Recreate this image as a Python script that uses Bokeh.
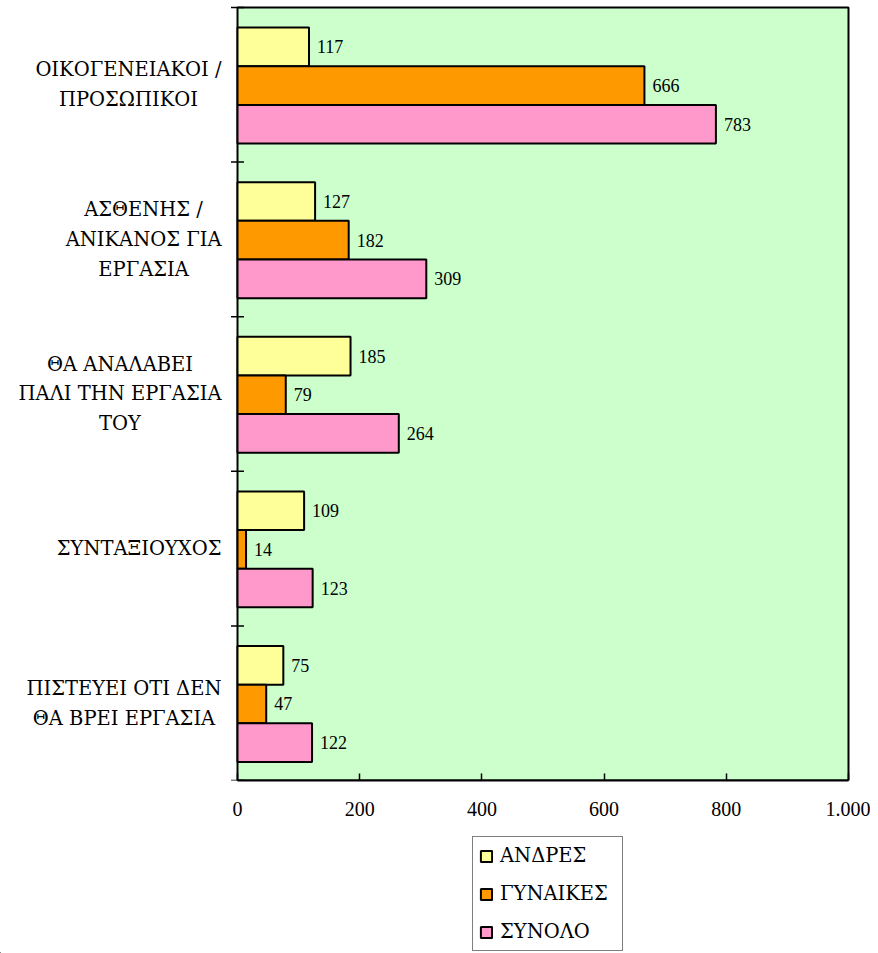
from bokeh.plotting import figure
from bokeh.layouts import column
from bokeh.models import (ColumnDataSource, FixedTicker, Range1d, Legend, LegendItem,
                          BoxAnnotation)
from bokeh.core.properties import value
from bokeh.embed import file_html
from bokeh.resources import INLINE

categories = [
    "ΟΙΚΟΓΕΝΕΙΑΚΟΙ /\nΠΡΟΣΩΠΙΚΟΙ",
    "ΑΣΘΕΝΗΣ /\nΑΝΙΚΑΝΟΣ ΓΙΑ\nΕΡΓΑΣΙΑ",
    "ΘΑ ΑΝΑΛΑΒΕΙ\nΠΑΛΙ ΤΗΝ ΕΡΓΑΣΙΑ\nΤΟΥ",
    "ΣΥΝΤΑΞΙΟΥΧΟΣ",
    "ΠΙΣΤΕΥΕΙ ΟΤΙ ΔΕΝ\nΘΑ ΒΡΕΙ ΕΡΓΑΣΙΑ",
]
series_names = ["ΑΝΔΡΕΣ", "ΓΥΝΑΙΚΕΣ", "ΣΥΝΟΛΟ"]
andres = [117, 127, 185, 109, 75]
gynaikes = [666, 182, 79, 14, 47]
synolo = [783, 309, 264, 123, 122]
x_ticks = [0, 200, 400, 600, 800, 1000]
x_tick_labels = ["0", "200", "400", "600", "800", "1.000"]

colors = ["#FFFF99", "#FF9900", "#FF99CC"]
NUM_FONT = "Liberation Serif"
GR_FONT = "DejaVu Serif"

n = len(categories)
centers = [n - 0.5 - i for i in range(n)]
boundaries = list(range(n + 1))
offsets = [0.245, -0.005, -0.255]
bar_h = 0.25

X_MAX = 1000
# layout: value 0 at 237 px, 1000 at 848 px; frame runs to 850 px (2 px spare for the border)
PX_PER_X = (848 - 237) / X_MAX
X_START = -237 / PX_PER_X
X_END = (850 - 237) / PX_PER_X
PX_PER_Y = (780 - 7) / n
Y_END = n + 2 / PX_PER_Y

p = figure(width=870, height=826, output_backend="svg", toolbar_location=None,
           x_range=Range1d(X_START, X_END), y_range=Range1d(0, Y_END),
           min_border_left=0, min_border_right=20, min_border_top=5,
           min_border_bottom=46)
p.background_fill_color = "white"
p.border_fill_color = "white"
p.outline_line_color = None
p.xgrid.visible = False
p.ygrid.visible = False
p.yaxis.visible = False

# plot area (green, black border)
p.add_layout(BoxAnnotation(left=0, right=X_MAX, bottom=0, top=n,
                           fill_color="#CCFFCC", fill_alpha=1,
                           line_color="black", line_alpha=1, line_width=2,
                           line_dash="solid", level="underlay"))

for vals, col, off in zip([andres, gynaikes, synolo], colors, offsets):
    src = ColumnDataSource(dict(y=[c + off for c in centers], right=vals,
                                lab=[str(v) for v in vals]))
    p.hbar(y="y", right="right", left=0, height=bar_h, source=src,
           fill_color=col, line_color="black", line_width=2)
    p.text(x="right", y="y", text="lab", source=src, x_offset=8,
           text_font=value(NUM_FONT), text_font_size="18px",
           text_baseline="middle", text_align="left", text_color="black")

# category tick marks crossing the value axis at category boundaries
p.dash(x=[0] * len(boundaries), y=boundaries, size=13, line_width=1.5,
       line_color="black")

# category labels (lines centred, block right-aligned next to the axis)
lab_src = ColumnDataSource(dict(x=[0] * n, y=centers, text=categories))
p.text(x="x", y="y", text="text", source=lab_src, x_offset=-16,
       anchor="center_right", text_align="center", text_baseline="middle",
       text_font=value(GR_FONT), text_font_size="19.5px",
       text_line_height=1.3, text_color="black")

# x axis
p.xaxis.bounds = (0, X_MAX)
p.xaxis.ticker = FixedTicker(ticks=x_ticks)
p.xaxis.major_label_overrides = {t: l for t, l in zip(x_ticks, x_tick_labels)}
p.xaxis.major_tick_in = 7
p.xaxis.major_tick_out = 0
p.xaxis.minor_tick_line_color = None
p.xaxis.axis_line_width = 2
p.xaxis.major_tick_line_width = 1.5
p.xaxis.major_label_text_font = NUM_FONT
p.xaxis.major_label_text_font_size = "20px"
p.xaxis.major_label_text_color = "black"
p.xaxis.major_label_standoff = 21

# legend figure (below the chart)
lg = figure(width=870, height=127, output_backend="svg", toolbar_location=None,
            x_range=Range1d(0, 1), y_range=Range1d(0, 1),
            min_border=0, x_axis_location=None, y_axis_location=None)
lg.outline_line_color = None
lg.xgrid.visible = False
lg.ygrid.visible = False
items = []
for nm, col in zip(series_names, colors):
    # legend proxies, placed well outside the visible range
    r = lg.hbar(y=[-10], right=[-9], left=-10, height=0.1,
                fill_color=col, line_color="black", line_width=2)
    items.append(LegendItem(label=nm, renderers=[r]))
legend = Legend(items=items, location=(472, 2), orientation="vertical",
                label_text_font=GR_FONT, label_text_font_size="19.5px",
                label_text_color="black", label_width=116,
                glyph_width=14, glyph_height=14, label_height=25,
                label_standoff=7, spacing=13, padding=6, margin=0,
                border_line_color="black", border_line_width=1.5,
                background_fill_color="white", background_fill_alpha=1)
lg.add_layout(legend, "center")

open("out.html", "w").write(file_html(column(p, lg, spacing=0), INLINE))
